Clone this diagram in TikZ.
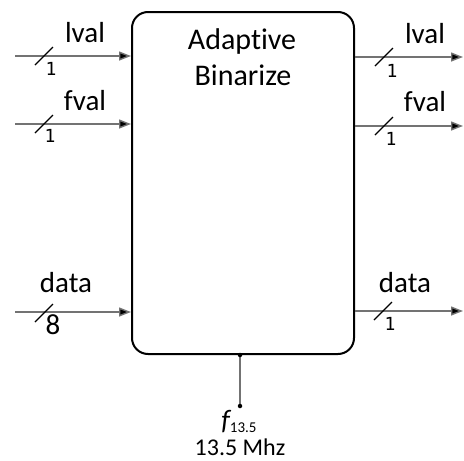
\documentclass[tikz,border=0pt]{standalone}
\usepackage{fontspec}
\setmainfont{Carlito}[RawFeature=-liga]
\newfontfamily\busfont{DejaVu Sans Mono}
\usetikzlibrary{arrows.meta}

\begin{document}
\begin{tikzpicture}[x=1pt,y=-1pt,
  block/.style={draw=black, line width=2pt, rounded corners=16pt,
    minimum width=222pt, minimum height=342pt, inner sep=0pt},
  sig/.style={draw=black!55, line width=1.4pt,
    -{Triangle[length=12pt,width=9pt,fill=black]}},
  busmark/.style={draw=black, line width=1.4pt},
  lbl/.style={anchor=base, inner sep=0pt, font=\fontsize{29}{34}\selectfont},
  width/.style={anchor=base, inner sep=0pt, font=\busfont\fontsize{18}{20}\selectfont},
  title/.style={anchor=base, inner sep=0pt, font=\fontsize{30}{36}\selectfont},
  clkdot/.style={circle, fill=black, inner sep=0pt, minimum size=4.5pt}
]
\useasboundingbox (0,0) rectangle (464,461);

% the block
\node[block] (box) at (243,183) {};
\node[title] (t1) at (242,49) {Adaptive};
\node[title] (t2) at (243,85) {Binarize};

% free ends of the signal lines
\coordinate (inL) at (15,56);
\coordinate (inF) at (15,124);
\coordinate (inD) at (15,312);
\coordinate (outL) at (463,57);
\coordinate (outF) at (463,126);
\coordinate (outD) at (463,311);

% inputs
\draw[sig] (inL) -- (inL -| box.west);
\draw[sig] (inF) -- (inF -| box.west);
\draw[sig] (inD) -- (inD -| box.west);
% outputs
\draw[sig] (outL -| box.east) -- (outL);
\draw[sig] (outF -| box.east) -- (outF);
\draw[sig] (outD -| box.east) -- (outD);

% bus width marks
\draw[busmark] (35,65) -- (53,47);
\draw[busmark] (35,133) -- (53,115);
\draw[busmark] (35,322) -- (53,304);
\draw[busmark] (375,66) -- (393,48);
\draw[busmark] (375,135) -- (393,117);
\draw[busmark] (374,320) -- (392,302);

% signal names
\node[lbl] (nL1) at (85,42) {lval};
\node[lbl] (nF1) at (85,110) {fval};
\node[lbl] (nD1) at (66,292) {data};
\node[lbl] (nL2) at (425,43) {lval};
\node[lbl] (nF2) at (425,111) {fval};
\node[lbl] (nD2) at (405,292) {data};

% widths
\node[width] (wL1) at (51,75) {1};
\node[width] (wF1) at (50,142) {1};
\node[lbl]   (wD1) at (53,334) {8};
\node[width] (wL2) at (392,77) {1};
\node[width] (wF2) at (391,145) {1};
\node[width] (wD2) at (390,330) {1};

% clock input
\coordinate (clk) at (240,406);
\draw[draw=black!55, line width=1.3pt] (clk |- box.south) -- (clk);
\node[clkdot] (d1) at (clk |- box.south) {};
\node[clkdot] (d2) at (clk) {};
\node[anchor=base, inner sep=0pt] (fq) at (239,429)
  {{\fontsize{28}{30}\selectfont\itshape f}{\fontsize{15}{16}\selectfont\raisebox{-3pt}{13.5}}};
\node[anchor=base, inner sep=0pt, font=\fontsize{24}{28}\selectfont] (mhz) at (240,455) {13.5 Mhz};
\end{tikzpicture}
\end{document}
